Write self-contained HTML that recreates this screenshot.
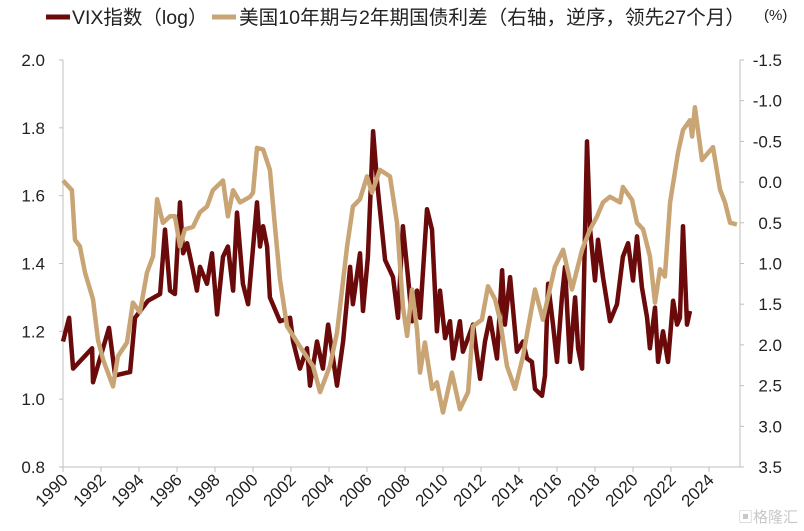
<!DOCTYPE html>
<html><head><meta charset="utf-8"><style>
body{margin:0;background:#fff;}
svg{display:block;font-family:"Liberation Sans","Noto Sans CJK SC",sans-serif;}
</style></head><body>
<svg id="chart" width="804" height="531" viewBox="0 0 804 531" xmlns="http://www.w3.org/2000/svg">
<g>
<line x1="46" y1="17" x2="70" y2="17" stroke="#6b0a0a" stroke-width="5"/>
<text x="72" y="24" font-size="19.5" fill="#222">VIX指数（log）</text>
<line x1="212" y1="17" x2="236" y2="17" stroke="#c9a474" stroke-width="5"/>
<text x="239" y="24" font-size="19.5" fill="#222" textLength="506" lengthAdjust="spacingAndGlyphs">美国10年期与2年期国债利差（右轴，逆序，领先27个月）</text>
</g>
<text x="764" y="20" font-size="15" fill="#222">(%)</text>
<g id="axes"></g>
<g id="series"></g>
<text x="738" y="522" font-size="15" fill="#c8c8c8">▣格隆汇</text>
</svg>
<script>
const leftTicks=[0.8,1.0,1.2,1.4,1.6,1.8,2.0];
const rightTicks=[-1.5,-1.0,-0.5,0.0,0.5,1.0,1.5,2.0,2.5,3.0,3.5];
const yearTicks=[1990,1992,1994,1996,1998,2000,2002,2004,2006,2008,2010,2012,2014,2016,2018,2020,2022,2024];
const vixDates=[1990.00,1990.32,1990.53,1991.53,1991.58,1992.42,1992.74,1993.53,1993.79,1994.47,1995.11,1995.37,1995.63,1995.89,1996.16,1996.32,1996.53,1996.84,1997.05,1997.21,1997.58,1997.84,1998.11,1998.42,1998.68,1998.95,1999.16,1999.47,1999.74,2000.21,2000.37,2000.53,2000.74,2000.89,2001.42,2001.95,2002.11,2002.47,2002.84,2003.00,2003.37,2003.68,2003.95,2004.42,2004.74,2005.11,2005.26,2005.63,2005.79,2006.05,2006.32,2006.53,2006.95,2007.37,2007.63,2007.89,2008.16,2008.37,2008.63,2008.79,2009.16,2009.42,2009.68,2009.84,2010.11,2010.37,2010.53,2010.89,2011.05,2011.32,2011.58,2011.95,2012.21,2012.47,2012.84,2013.11,2013.26,2013.53,2013.89,2014.21,2014.42,2014.68,2014.84,2015.21,2015.37,2015.53,2015.79,2016.00,2016.26,2016.42,2016.68,2016.95,2017.11,2017.32,2017.58,2017.74,2018.00,2018.16,2018.42,2018.79,2019.16,2019.47,2019.74,2020.00,2020.21,2020.47,2020.74,2020.89,2021.16,2021.32,2021.58,2021.84,2022.11,2022.32,2022.47,2022.63,2022.84,2023.00];
const vixValues=[1.17,1.24,1.09,1.15,1.05,1.21,1.07,1.08,1.24,1.29,1.31,1.50,1.32,1.31,1.58,1.43,1.46,1.38,1.32,1.39,1.34,1.43,1.25,1.42,1.45,1.32,1.55,1.34,1.28,1.58,1.45,1.51,1.45,1.30,1.23,1.24,1.17,1.09,1.15,1.04,1.17,1.09,1.22,1.04,1.17,1.39,1.28,1.43,1.26,1.42,1.79,1.64,1.41,1.36,1.24,1.51,1.36,1.23,1.32,1.24,1.56,1.50,1.20,1.32,1.18,1.23,1.12,1.23,1.14,1.18,1.22,1.06,1.17,1.24,1.12,1.38,1.22,1.36,1.14,1.17,1.12,1.11,1.03,1.01,1.07,1.34,1.22,1.11,1.30,1.39,1.11,1.30,1.15,1.09,1.76,1.50,1.35,1.47,1.36,1.23,1.28,1.42,1.46,1.35,1.48,1.33,1.24,1.15,1.27,1.11,1.20,1.11,1.29,1.22,1.24,1.51,1.22,1.26];
const spreadDates=[1990.00,1990.47,1990.63,1990.89,1991.16,1991.58,1991.84,1992.11,1992.63,1992.89,1993.37,1993.68,1994.05,1994.42,1994.74,1994.95,1995.26,1995.63,1995.89,1996.16,1996.42,1996.84,1997.21,1997.58,1997.89,1998.42,1998.68,1998.95,1999.32,1999.84,2000.00,2000.21,2000.53,2000.89,2001.16,2001.42,2001.79,2002.47,2003.16,2003.53,2004.05,2004.42,2004.95,2005.26,2005.63,2006.00,2006.26,2006.68,2007.21,2007.58,2007.89,2008.11,2008.37,2008.63,2008.79,2009.05,2009.42,2009.68,2010.00,2010.47,2010.89,2011.32,2011.58,2012.05,2012.37,2012.74,2013.00,2013.37,2013.79,2014.21,2014.84,2015.26,2015.89,2016.32,2016.79,2017.32,2017.74,2018.11,2018.42,2018.79,2019.32,2019.47,2019.95,2020.21,2020.53,2020.89,2021.16,2021.42,2021.68,2021.95,2022.37,2022.63,2023.00,2023.11,2023.26,2023.63,2023.95,2024.21,2024.58,2024.84,2025.11,2025.47];
const spreadValues=[-0.02,0.10,0.71,0.79,1.11,1.44,1.94,2.18,2.51,2.14,1.97,1.48,1.60,1.11,0.91,0.21,0.50,0.42,0.42,0.79,0.58,0.55,0.37,0.30,0.10,-0.02,0.42,0.10,0.25,0.18,0.13,-0.42,-0.40,-0.15,0.55,1.20,1.77,2.02,2.26,2.58,2.26,1.85,0.79,0.30,0.21,-0.07,0.13,-0.15,-0.07,0.50,1.53,1.89,1.32,1.81,2.34,1.97,2.54,2.46,2.83,2.34,2.79,2.58,1.77,1.69,1.28,1.44,1.69,2.26,2.54,2.14,1.32,1.69,1.04,0.83,1.32,0.83,0.58,0.42,0.25,0.18,0.25,0.06,0.22,0.50,0.58,0.91,1.48,1.07,1.16,0.25,-0.36,-0.64,-0.76,-0.56,-0.92,-0.27,-0.36,-0.43,0.09,0.25,0.50,0.52];

const X0=63,X1=740,T=60,B=467;
const xS=yr=>X0+(yr-1990)*19;
const yL=v=>B-(v-0.8)/1.2*(B-T);
const yR=s=>T+(s+1.5)/5*(B-T);
const NS="http://www.w3.org/2000/svg";
function mk(tag,attrs,parent){const e=document.createElementNS(NS,tag);for(const k in attrs)e.setAttribute(k,attrs[k]);parent.appendChild(e);return e;}
const ax=document.getElementById('axes'),se=document.getElementById('series');
let e;
e=mk('line',{x1:X0,y1:T,x2:X0,y2:B,stroke:'#bfbfbf','stroke-width':1},ax);


e=mk('line',{x1:X1,y1:T,x2:X1,y2:B,stroke:'#bfbfbf','stroke-width':1},ax);


e=mk('line',{x1:X0,y1:B,x2:X1,y2:B,stroke:'#bfbfbf','stroke-width':1},ax);


leftTicks.forEach(v=>{
  const y=yL(v);
  e=mk('line',{x1:X0-4,y1:y,x2:X0,y2:y,stroke:'#bfbfbf'},ax);
  
  
  e=mk('text',{x:45,y:y+6,'font-size':17,'text-anchor':'end',fill:'#222'},ax);
  e.textContent=v.toFixed(1);
  
  
});
rightTicks.forEach(v=>{
  const y=yR(v);
  e=mk('line',{x1:X1,y1:y,x2:X1+4,y2:y,stroke:'#bfbfbf'},ax);
  
  
  e=mk('text',{x:782,y:y+6,'font-size':17,'text-anchor':'end',fill:'#222'},ax);
  e.textContent=v.toFixed(1);
  
  
});
yearTicks.forEach(yr=>{
  const x=xS(yr);
  e=mk('line',{x1:x,y1:B,x2:x,y2:B+5,stroke:'#bfbfbf'},ax);
  
  
  e=mk('text',{x:x+6,y:B+14,'font-size':17,'text-anchor':'end',fill:'#222',transform:`rotate(-45 ${x+6} ${B+14})`},ax);
  e.textContent=yr;
  
  
});
const vd=vixDates.map((d,i)=>(i?'L':'M')+xS(d).toFixed(1)+' '+yL(vixValues[i]).toFixed(1)).join(' ');
const sd=spreadDates.map((d,i)=>(i?'L':'M')+xS(d).toFixed(1)+' '+yR(spreadValues[i]).toFixed(1)).join(' ');
e=mk('path',{d:vd,fill:'none',stroke:'#6b0a0a','stroke-width':4.5,'stroke-linejoin':'round'},se);


e=mk('path',{d:sd,fill:'none',stroke:'#c9a474','stroke-width':4.5,'stroke-linejoin':'round'},se);


</script>
</body></html>
